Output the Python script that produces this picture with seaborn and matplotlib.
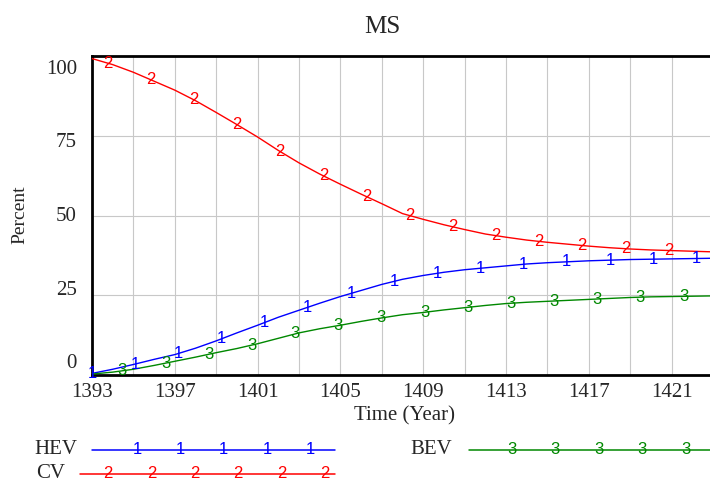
import numpy as np
import pandas as pd
import seaborn as sns
import matplotlib
matplotlib.use("Agg")
import matplotlib.pyplot as plt
from matplotlib.transforms import blended_transform_factory, ScaledTranslation

# ---------------- data ----------------
years = list(range(1393, 1424))
hev = [0.5, 1.8, 3.3, 4.9, 6.4, 8.4, 10.7, 13.2, 15.6, 18.1, 20.3, 22.5, 24.6, 26.5,
       28.4, 30.0, 31.2, 32.2, 33.0, 33.6, 34.2, 34.8, 35.2, 35.5, 35.8, 36.0, 36.2,
       36.3, 36.4, 36.5, 36.6]
cv = [99.2, 97.3, 94.9, 92.1, 89.3, 86.0, 82.3, 78.5, 74.6, 70.4, 66.5, 63.0, 59.8,
      56.7, 53.7, 50.6, 48.8, 47.1, 45.6, 44.2, 43.2, 42.3, 41.6, 41.0, 40.4, 39.9,
      39.5, 39.2, 39.0, 38.8, 38.6]
bev = [0.3, 0.9, 1.8, 3.0, 4.3, 5.6, 7.0, 8.3, 9.8, 11.5, 13.2, 14.5, 15.6, 16.8, 17.9,
       18.9, 19.6, 20.4, 21.1, 21.8, 22.4, 22.8, 23.1, 23.4, 23.7, 24.0, 24.3, 24.5,
       24.6, 24.7, 24.8]
series_names = ["HEV", "CV", "BEV"]
series_ids = ["1", "2", "3"]
title = "MS"
x_label = "Time (Year)"
y_label = "Percent"
y_ticks = [0, 25, 50, 75, 100]

# ---------------- style ----------------
W, H, DPI = 710, 482, 100
colors = {"HEV": "#0000ff", "CV": "#ff0000", "BEV": "#008800"}
serif = ["Liberation Serif", "DejaVu Serif"]
sans = ["Liberation Sans", "DejaVu Sans"]

sns.set_theme(style="white")
plt.rcParams["font.family"] = serif

df = pd.DataFrame({"Year": years * 3,
                   "Value": hev + cv + bev,
                   "Series": ["HEV"] * len(years) + ["CV"] * len(years) + ["BEV"] * len(years)})

fig = plt.figure(figsize=(W / DPI, H / DPI), dpi=DPI)
ax_left, ax_right, ax_top, ax_bottom = 92, 713, 56, 375
ax = fig.add_axes([ax_left / W, 1 - ax_bottom / H, (ax_right - ax_left) / W, (ax_bottom - ax_top) / H])

sns.lineplot(data=df, x="Year", y="Value", hue="Series", palette=colors, ax=ax,
             linewidth=1.0, legend=False, zorder=3)

x0, x1 = years[0], years[-1]
ax.set_xlim(x0, x1)
ax.set_ylim(0, 100)

# grid / ticks
xt = list(range(x0, x1 + 1, 2))
ax.set_xticks(xt)
ax.set_xticklabels([str(t) if (t - x0) % 4 == 0 else "" for t in xt], fontsize=15)
ax.set_yticks(y_ticks)
ax.set_yticklabels([])
ax.grid(True, color="#c8c8c8", linewidth=0.8)
ax.tick_params(axis="both", length=3, width=0.8, color="#c8c8c8", pad=2)
ax.tick_params(axis="x", pad=3)
for s in ["left", "bottom", "top"]:
    ax.spines[s].set_color("black")
    ax.spines[s].set_linewidth(2)
ax.spines["right"].set_visible(False)
ax.set_xlabel("")
ax.set_ylabel("")

# y tick labels with Vensim-like inward offsets
bt = blended_transform_factory(ax.transAxes, ax.transData)
for v in y_ticks:
    dy_px = -(13 - 0.24 * (100 - v))
    tr = bt + ScaledTranslation(-15 / DPI, dy_px / DPI, fig.dpi_scale_trans)
    ax.text(0, v, str(v), transform=tr, ha="right", va="center", fontsize=15, family=serif)

# digit markers along the curves
spacing = 2.085
starts = {"HEV": 0.0, "CV": 0.75, "BEV": 1.47}
vals = {"HEV": hev, "CV": cv, "BEV": bev}
for name, sid in zip(series_names, series_ids):
    mx = np.arange(x0 + starts[name], x1 - 0.5, spacing)
    my = np.interp(mx, years, vals[name])
    for a, b in zip(mx, my):
        ax.text(a, b, sid, color=colors[name], ha="center", va="center",
                fontsize=12, family=sans, zorder=4, clip_on=False)

# figure texts
fig.text(382 / W, 1 - 27 / H, title, ha="center", va="center", fontsize=18, family=serif)
fig.text(20 / W, 1 - 215 / H, y_label, ha="center", va="center", rotation=90, fontsize=14, family=serif)
fig.text(405 / W, 1 - 416 / H, x_label, ha="center", va="center", fontsize=15, family=serif)

# legend (pixel-space overlay)
lax = fig.add_axes([0, 0, 1, 1])
lax.set_xlim(0, W)
lax.set_ylim(H, 0)
lax.axis("off")
lax.patch.set_visible(False)
legend_spec = [("HEV", "1", 77, 450, 92, 335, 137, 5),
               ("CV", "2", 65, 474, 80, 335, 108, 6),
               ("BEV", "3", 452, 450, 469, 712, 512, 5)]
for name, sid, tx, ty, lx0, lx1, m0, n in legend_spec:
    lax.text(tx, ty, name, ha="right", va="center", fontsize=15, family=serif)
    lax.plot([lx0, lx1], [ty, ty], color=colors[name], linewidth=1.1)
    for k in range(n):
        lax.text(m0 + k * 43.4, ty, sid, color=colors[name], ha="center", va="center",
                 fontsize=12, family=sans)

fig.savefig("out.png", dpi=DPI)
